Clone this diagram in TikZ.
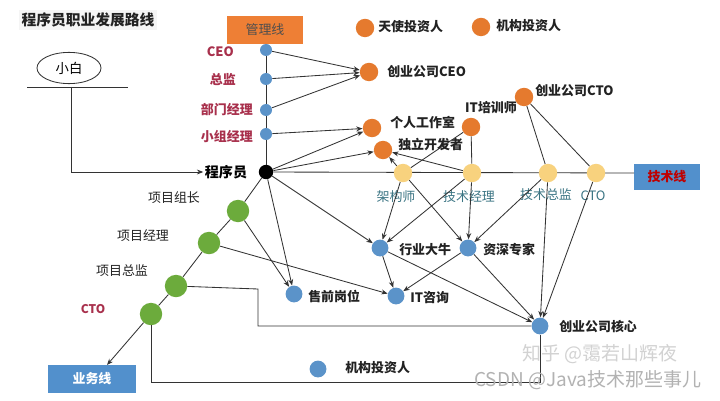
\documentclass[tikz,border=0pt]{standalone}
\usepackage{fontspec}
\setmainfont{Noto Sans CJK SC}
\usetikzlibrary{arrows.meta,shapes.geometric}
\definecolor{cOrange}{HTML}{E57A2E}
\definecolor{cBoxOr}{HTML}{EE7F35}
\definecolor{cBlue}{HTML}{5B93C9}
\definecolor{cBoxBl}{HTML}{5290CC}
\definecolor{cYellow}{HTML}{F8D27E}
\definecolor{cGreen}{HTML}{6CAB3C}
\definecolor{cRed}{HTML}{A8304C}
\definecolor{cTeal}{HTML}{3A7483}
\definecolor{cLine}{HTML}{333333}
\definecolor{cTxt}{HTML}{222222}
\begin{document}
\begin{tikzpicture}[x=0.025cm,y=-0.025cm,
  conn/.style={draw=cLine,line width=0.6pt},
  arr/.style={conn,-{Stealth[length=4.5pt,width=3.5pt]}},
  bdot/.style={circle,fill=cBlue,inner sep=0pt,minimum size=0.3cm},
  bdotl/.style={circle,fill=cBlue,inner sep=0pt,minimum size=0.42cm},
  odot/.style={circle,fill=cOrange,inner sep=0pt,minimum size=0.46cm},
  ydot/.style={circle,fill=cYellow,inner sep=0pt,minimum size=0.46cm},
  gdot/.style={circle,fill=cGreen,inner sep=0pt,minimum size=0.56cm},
  kdot/.style={circle,fill=black,inner sep=0pt,minimum size=0.36cm},
  lbl/.style={font=\fontsize{9.2}{10}\selectfont\bfseries,text=cTxt,inner sep=0pt,anchor=west},
  mlbl/.style={font=\fontsize{9.2}{10}\selectfont\bfseries,text=cRed,inner sep=0pt,anchor=east},
  tlbl/.style={font=\fontsize{9.2}{10}\selectfont,text=cTeal,inner sep=0pt},
  glbl/.style={font=\fontsize{9.2}{10}\selectfont,text=cTxt,inner sep=0pt},
  wm/.style={font=\fontsize{13.5}{14}\selectfont,text=gray!60,inner sep=0pt,anchor=west}
]
\useasboundingbox[fill=white] (0,0) rectangle (720,400);

% title
\node[fill=gray!8,inner sep=2pt,font=\fontsize{10.5}{12}\selectfont\bfseries,text=cTxt] (title) at (88,20) {程序员职业发展路线};

% xiaobai
\node[ellipse,draw=cLine,line width=0.6pt,minimum width=1.6cm,minimum height=0.78cm,inner sep=0pt,font=\fontsize{9.5}{10}\selectfont] (xb) at (69,68) {小白};
\coordinate (ul) at (27,87);
\coordinate (ur) at (128,87);
\coordinate (xbd) at (71,87);
\draw[conn] (ul) -- (ur);

% programmer
\node[font=\fontsize{10}{11}\selectfont\bfseries,text=black,inner sep=1pt] (prog) at (226,172) {程序员};
\node[kdot] (P) at (266,172) {};
\draw[arr] (xbd) |- (prog.west);

% management line
\node[fill=cBoxOr,minimum width=1.9cm,minimum height=0.7cm,inner sep=0pt,font=\fontsize{9.2}{10}\selectfont,text=cTxt!80] (mbox) at (265,30) {管理线};
\node[bdot] (M1) at (266,50) {};
\node[bdot] (M2) at (266,79) {};
\node[bdot] (M3) at (266,110) {};
\node[bdot] (M4) at (266,134) {};
\draw[conn] (M1) -- (M2) -- (M3) -- (M4) -- (P);
\node[mlbl] (lM1) at (234,52) {CEO};
\node[mlbl] (lM2) at (236,80) {总监};
\node[mlbl] (lM3) at (253,110) {部门经理};
\node[mlbl] (lM4) at (253,137) {小组经理};

% orange nodes
\node[odot] (angel) at (365,28) {};
\node[lbl] (langel) at (378,27) {天使投资人};
\node[odot] (inst) at (481,27) {};
\node[lbl] (linst) at (496,26) {机构投资人};
\node[odot] (sceo) at (369,72) {};
\node[lbl] (lsceo) at (387,72) {创业公司CEO};
\node[odot] (studio) at (372,128) {};
\node[lbl] (lstudio) at (390,122) {个人工作室};
\node[odot] (indep) at (383,150) {};
\node[lbl] (lindep) at (398,145) {独立开发者};
\node[odot] (trainer) at (471,127) {};
\node[lbl,anchor=center] (ltrainer) at (491,108) {IT培训师};
\node[odot] (scto) at (524,97) {};
\node[lbl] (lscto) at (535,91) {创业公司CTO};

% tech line
\node[fill=cBoxBl,minimum width=1.65cm,minimum height=0.66cm,inner sep=0pt,font=\fontsize{9.2}{10}\selectfont\bfseries,text=red!75!black] (tbox) at (667,177) {技术线};
\coordinate (tend) at (634,173);
\draw[conn] (P) -- (tend);
\node[ydot] (arch) at (403,173) {};
\node[ydot] (tmgr) at (472,173) {};
\node[ydot] (tdir) at (548,173) {};
\node[ydot] (tcto) at (596,173) {};
\node[tlbl] (larch) at (396,197) {架构师};
\node[tlbl] (ltmgr) at (469,197) {技术经理};
\node[tlbl] (ltdir) at (546,195) {技术总监};
\node[tlbl] (ltcto) at (593,196) {CTO};

% lower blue nodes
\node[bdotl] (niu) at (380,248) {};
\node[lbl] (lniu) at (399,250) {行业大牛};
\node[bdotl] (expert) at (468,248) {};
\node[lbl] (lexpert) at (483,250) {资深专家};
\node[bdotl] (presale) at (294,294) {};
\node[lbl] (lpresale) at (308,296) {售前岗位};
\node[bdotl] (itc) at (396,296) {};
\node[lbl] (litc) at (410,298) {IT咨询};
\node[bdotl] (core) at (540,326) {};
\node[lbl] (lcore) at (559,327) {创业公司核心};
\node[bdotl] (inv2) at (318,369) {};
\node[lbl] (linv2) at (345,368) {机构投资人};

% business line
\node[gdot] (g1) at (238,211) {};
\node[gdot] (g2) at (209,243) {};
\node[gdot] (g3) at (176,286) {};
\node[gdot] (g4) at (151,314) {};
\node[fill=cBoxBl,minimum width=2.2cm,minimum height=0.7cm,inner sep=0pt,font=\fontsize{9.2}{10}\selectfont\bfseries,text=white] (bbox) at (92,379) {业务线};
\coordinate (btip) at (107,365);
\draw[conn] (P) -- (g1) -- (g2) -- (g3) -- (g4);
\draw[arr] (g4) -- (btip);
\node[glbl] (lg1) at (174,198) {项目组长};
\node[glbl] (lg2) at (143,236) {项目经理};
\node[glbl] (lg3) at (122,271) {项目总监};
\node[glbl,text=cRed,font=\fontsize{8.5}{10}\selectfont\bfseries] (lg4) at (93,309) {CTO};

% management -> startup / studio
\draw[arr] (M1) -- (sceo);
\draw[arr] (M2) -- (sceo);
\draw[arr] (M3) -- (sceo);
\draw[arr] (M4) -- (studio);
\draw[arr] (P) -- (studio);
\draw[arr] (P) -- (indep);
\draw[arr] (arch) -- (indep);
\draw[arr] (tmgr) -- (indep);
\draw[conn] (trainer) -- (arch);
\draw[conn] (trainer) -- (tmgr);
\draw[conn] (scto) -- (tdir);
\draw[conn] (scto) -- (tcto);

% to lower nodes
\draw[arr] (P) -- (presale);
\draw[arr] (g1) -- (presale);
\draw[arr] (P) -- (niu);
\draw[arr] (g2) -- (itc);
\draw[arr] (arch) -- (niu);
\draw[arr] (tmgr) -- (niu);
\draw[arr] (arch) -- (expert);
\draw[arr] (tmgr) -- (expert);
\draw[arr] (tdir) -- (expert);
\draw[arr] (niu) -- (itc);
\draw[arr] (expert) -- (itc);
\draw[arr] (niu) -- (core);
\draw[arr] (expert) -- (core);
\draw[arr] (tdir) -- (core);
\draw[arr] (tcto) -- (core);

% elbows
\coordinate (e1) at (258,289);
\draw[conn] (g3) -- (e1) |- (core);
\coordinate (e3) at (540,382);
\draw[conn] (g4) |- (e3) -- (core);

% watermarks
\node[wm,text=gray!35] (wm1) at (522,354) {知乎 @霭若山辉夜};
\node[wm] (wm2) at (474,380) {CSDN @Java技术那些事儿};
\end{tikzpicture}
\end{document}
